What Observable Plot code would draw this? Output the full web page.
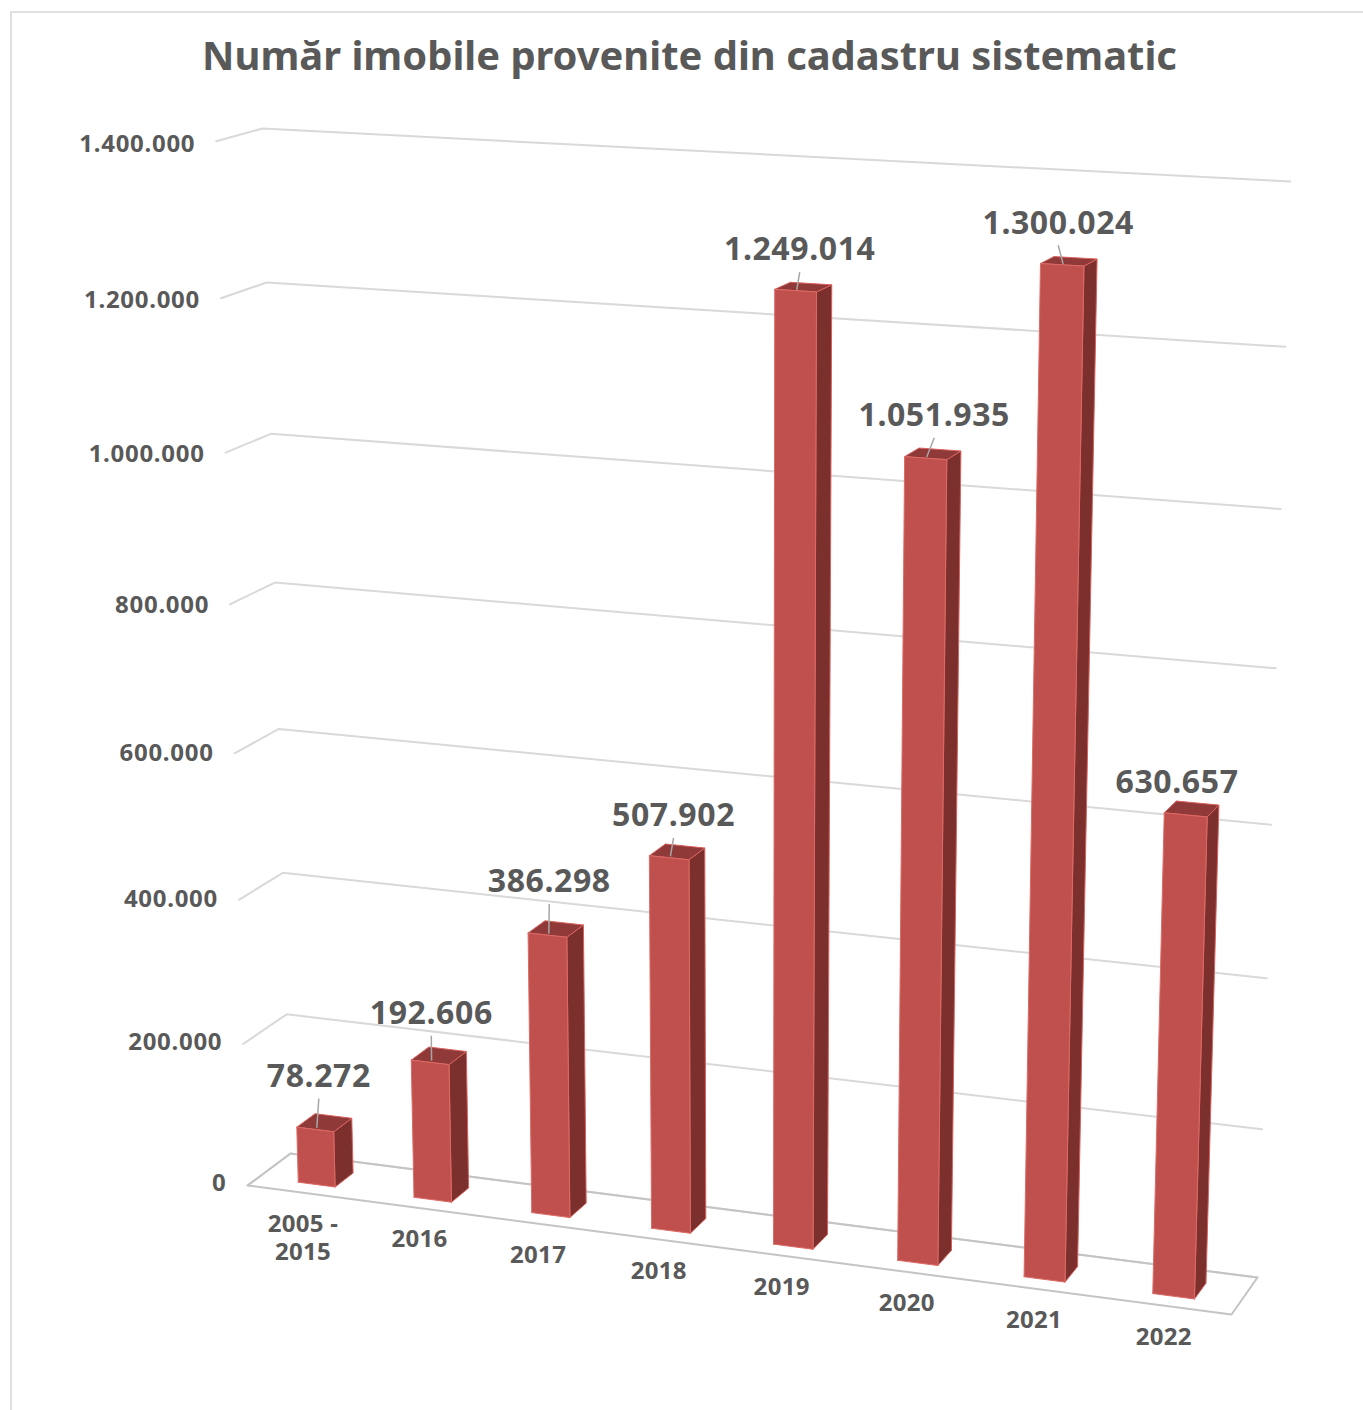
<!DOCTYPE html>
<html lang="ro">
<head>
<meta charset="utf-8">
<script src="https://cdn.jsdelivr.net/npm/d3@7"></script>
<script src="https://cdn.jsdelivr.net/npm/@observablehq/plot@0.6"></script>
<style>
  html, body { margin: 0; padding: 0; background: #fff; overflow: hidden; }
  #frame { position: relative; width: 1363px; height: 1410px; font-family: "Noto Sans", sans-serif; }
  #border { position: absolute; left: 10px; top: 11px; right: 0; bottom: 0; border-left: 2px solid #e0e0e0; border-top: 2px solid #e0e0e0; }
  #title { position: relative; height: 92px; box-sizing: border-box; padding-top: 28px; padding-left: 16px; text-align: center;
           font-size: 39.9px; line-height: 54px; font-weight: 700; color: #595959; white-space: nowrap; }
  #chart { position: relative; }
  #chart svg { display: block; }
  .value-label { letter-spacing: 0.6px; }
  .tick-label { letter-spacing: 0.7px; }
  .cat-label { letter-spacing: 0.3px; }
</style>
</head>
<body>
<div id="frame">
  <div id="border"></div>
  <div id="title">Număr imobile provenite din cadastru sistematic</div>
  <div id="chart"></div>
</div>
<script>
// ---- data ----
const categories = ["2005 -\n2015", "2016", "2017", "2018", "2019", "2020", "2021", "2022"];
const values = [78272, 192606, 386298, 507902, 1249014, 1051935, 1300024, 630657];
const ticks = [0, 200000, 400000, 600000, 800000, 1000000, 1200000, 1400000];
const maxValue = 1400000;

// ---- layout of the 3D box (page pixels) ----
const titleH = 92, W = 1363, H = 1410 - titleH;
const backLeftBottom = [290, 1153], backRightBottom = [1257, 1277], backLeftTop = [262, 128],
      frontLeftBottom = [247, 1185], backRightTop = [1290, 181], frontRightBottom = [1231, 1314];
const barW = 0.32, barShift = 0.0006, wFront = 0.26, wBack = 0.69;
// offset of each value label from the bar's top centre
const labelOffset = [[-5,-46],[-7,-42],[-6,-47],[-3,-36],[-3,-37],[2,-38],[-10,-38],[-14,-26]];
const hasLeader = [true, true, true, true, true, true, true, false];

// projective map from (u along categories, v up, w to the back) to pixels
const hom = ([x, y]) => [x, y, 1];
function det3(a, b, c) {
  return a[0]*(b[1]*c[2]-b[2]*c[1]) - b[0]*(a[1]*c[2]-a[2]*c[1]) + c[0]*(a[1]*b[2]-a[2]*b[1]);
}
function solveTwo(P, Q, R, D) { // a P + b Q - k R = D
  const N = R.map(t => -t), d = det3(P, Q, N);
  return [det3(D, Q, N) / d, det3(P, D, N) / d];
}
const D0 = hom(backLeftBottom), Hu = hom(backRightBottom), Hv = hom(backLeftTop), Hw = hom(frontLeftBottom);
const [alpha, beta] = solveTwo(Hu, Hv, hom(backRightTop), D0);
const [alpha2, gamma] = solveTwo(Hu, Hw, hom(frontRightBottom), D0);
// t = 1 - w runs from the back (0) to the front (1)
function project(u, v, w) {
  const t = 1 - w, out = [0, 0, 0];
  for (let i = 0; i < 3; i++) out[i] = D0[i] + u*(alpha*Hu[i]-D0[i]) + v*(beta*Hv[i]-D0[i]) + t*(gamma*Hw[i]-D0[i]);
  return [out[0]/out[2], out[1]/out[2] - titleH];
}
const pt = (id, u, v, w) => { const [x, y] = project(u, v, w); return {id, x, y}; };
const uOf = i => (i + 0.5) / categories.length;

// ---- tables built from the data ----
const grid = ticks.flatMap(t => [pt(t, 0, t/maxValue, 0), pt(t, 0, t/maxValue, 1), pt(t, 1, t/maxValue, 1)]);
const floorBox = [pt("f", 1, 0, 0), pt("f", 1, 0, 1), pt("f", 0, 0, 1), pt("f", 0, 0, 0), pt("f", 1, 0, 0)];
const face = (fn) => values.flatMap((val, i) => {
  const half = barW / (2 * categories.length);
  return fn(i, uOf(i) + barShift - half, uOf(i) + barShift + half, val / maxValue);
});
const sides = face((i,u0,u1,v) => [pt(i,u1,0,wFront), pt(i,u1,0,wBack), pt(i,u1,v,wBack), pt(i,u1,v,wFront), pt(i,u1,0,wFront)]);
const tops = face((i,u0,u1,v) => [pt(i,u0,v,wFront), pt(i,u1,v,wFront), pt(i,u1,v,wBack), pt(i,u0,v,wBack), pt(i,u0,v,wFront)]);
const fronts = face((i,u0,u1,v) => [pt(i,u0,0,wFront), pt(i,u1,0,wFront), pt(i,u1,v,wFront), pt(i,u0,v,wFront), pt(i,u0,0,wFront)]);

const fmt = n => String(n).replace(/\B(?=(\d{3})+(?!\d))/g, ".");
const topCentre = values.map((val, i) => pt(i, uOf(i), val/maxValue, (wFront+wBack)/2));
const leaderFoot = values.map((val, i) => pt(i, uOf(i), val/maxValue, wFront + 0.05));
const valueLabels = values.map((val, i) => ({text: fmt(val), x: topCentre[i].x + labelOffset[i][0], y: topCentre[i].y + labelOffset[i][1]}));
const leaders = valueLabels.map((l, i) => ({x1: leaderFoot[i].x, y1: leaderFoot[i].y, x2: l.x, y2: l.y + 22})).filter((d, i) => hasLeader[i]);
const tickLabels = ticks.map(t => { const p = pt(t, 0, t/maxValue, 0); return {...p, y: p.y - 2 + 5 * t/maxValue, text: fmt(t)}; });
const catLabels = categories.map((c, i) => ({...pt(i, uOf(i), 0, 0), text: c}));

const font = {fontFamily: '"Noto Sans", sans-serif', fontWeight: 700, fill: "#595959"};
const plot = Plot.plot({
  width: W, height: H, margin: 0,
  style: {background: "transparent", overflow: "visible"},
  x: {domain: [0, W], range: [0, W], axis: null},
  y: {domain: [0, H], range: [0, H], axis: null},
  marks: [
    Plot.line(grid, {x: "x", y: "y", z: "id", stroke: "#d9d9d9", strokeWidth: 2}),
    Plot.line(floorBox, {x: "x", y: "y", z: "id", stroke: "#c4c4c4", strokeWidth: 2}),
    Plot.line(sides, {x: "x", y: "y", z: "id", fill: "#7C302E", stroke: "#d9605c", strokeWidth: 1}),
    Plot.line(tops, {x: "x", y: "y", z: "id", fill: "#8F3A38", stroke: "#d9605c", strokeWidth: 1}),
    Plot.line(fronts, {x: "x", y: "y", z: "id", fill: "#C0504D", stroke: "#dc6a66", strokeWidth: 1}),
    Plot.link(leaders, {x1: "x1", y1: "y1", x2: "x2", y2: "y2", stroke: "#a6a6a6", strokeWidth: 1.5}),
    Plot.text(valueLabels, {x: "x", y: "y", text: "text", ...font, fontSize: 32, textAnchor: "middle", className: "value-label"}),
    Plot.text(tickLabels, {x: "x", y: "y", text: "text", ...font, fontSize: 24, textAnchor: "end", dx: -21, className: "tick-label"}),
    Plot.text(catLabels, {x: "x", y: "y", text: "text", ...font, fontSize: 24, textAnchor: "middle", lineAnchor: "top", lineHeight: 1.17, dx: -2, dy: 19, className: "cat-label"})
  ]
});
document.getElementById("chart").appendChild(plot);
</script>
</body>
</html>
